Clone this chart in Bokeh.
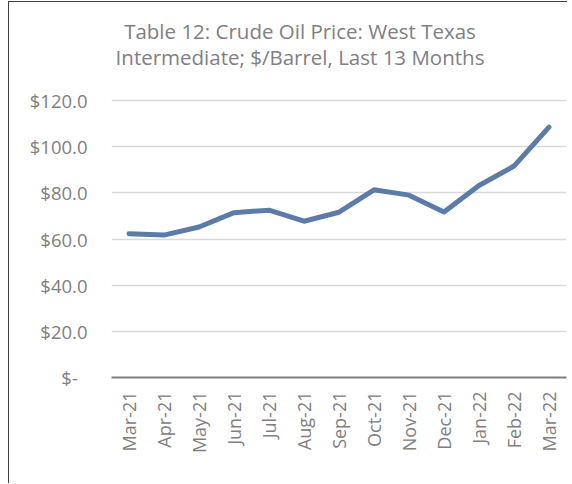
from bokeh.plotting import figure
from bokeh.models import FactorRange, Range1d, FixedTicker, Label
from bokeh.embed import file_html
from bokeh.resources import INLINE

months = ["Mar-21", "Apr-21", "May-21", "Jun-21", "Jul-21", "Aug-21", "Sep-21",
          "Oct-21", "Nov-21", "Dec-21", "Jan-22", "Feb-22", "Mar-22"]
prices = [62.3, 61.7, 65.2, 71.4, 72.5, 67.7, 71.6, 81.3, 79.0, 71.7, 83.2, 91.6, 108.5]
y_ticks = [0, 20, 40, 60, 80, 100, 120]
y_tick_labels = ["$-\u00a0\u00a0", "$20.0", "$40.0", "$60.0", "$80.0", "$100.0", "$120.0"]
title_lines = ["Table 12: Crude Oil Price: West Texas",
               "Intermediate; $/Barrel, Last 13 Months"]

FONT = "Open Sans"
TXT = "#808080"

# plot frame reaches the top of the canvas so that the two title lines can sit inside it;
# the value axis keeps 277 px for 0..120
FRAME_H = 375
y_top = 120 * FRAME_H / 277

p = figure(x_range=FactorRange(*months, range_padding=0), y_range=Range1d(0, y_top),
           width=559, height=482, output_backend="svg", toolbar_location=None,
           min_border_left=102, min_border_right=2, min_border_top=0, min_border_bottom=107)
p.styles = {"margin-left": "8px", "margin-top": "1px",
            "border-left": "1px solid #404040", "border-top": "1px solid #404040"}
p.outline_line_color = None
p.background_fill_color = "white"
p.border_fill_color = "white"

p.line(months, prices, line_color="#5b7ca8", line_width=5, line_join="round", line_cap="round")

# y axis
p.yaxis.ticker = FixedTicker(ticks=y_ticks)
p.yaxis.major_label_overrides = {t: l for t, l in zip(y_ticks, y_tick_labels)}
p.yaxis.axis_line_color = None
p.yaxis.major_tick_line_color = None
p.yaxis.minor_tick_line_color = None
p.yaxis.major_tick_out = 0
p.yaxis.major_tick_in = 0
p.yaxis.major_label_standoff = 24
p.yaxis.major_label_text_font = FONT
p.yaxis.major_label_text_font_size = "18.5px"
p.yaxis.major_label_text_color = TXT

# x axis
p.xaxis.axis_line_color = "#7f7f7f"
p.xaxis.axis_line_width = 2
p.xaxis.major_tick_line_color = None
p.xaxis.minor_tick_line_color = None
p.xaxis.major_tick_out = 0
p.xaxis.major_tick_in = 0
p.xaxis.major_label_orientation = 1.5708
p.xaxis.major_label_standoff = 14
p.xaxis.major_label_text_font = FONT
p.xaxis.major_label_text_font_size = "18px"
p.xaxis.major_label_text_color = TXT

p.xgrid.grid_line_color = None
p.ygrid.grid_line_color = "#d9d9d9"
p.ygrid.grid_line_width = 1.5

for i, line in enumerate(title_lines):
    p.add_layout(Label(x=188.5, y=FRAME_H - 28 - 26 * i, x_units="screen", y_units="screen",
                       text=line, text_align="center", text_baseline="alphabetic",
                       text_font=FONT, text_font_size="20.5px", text_color=TXT))

open("out.html", "w").write(file_html(p, INLINE))
